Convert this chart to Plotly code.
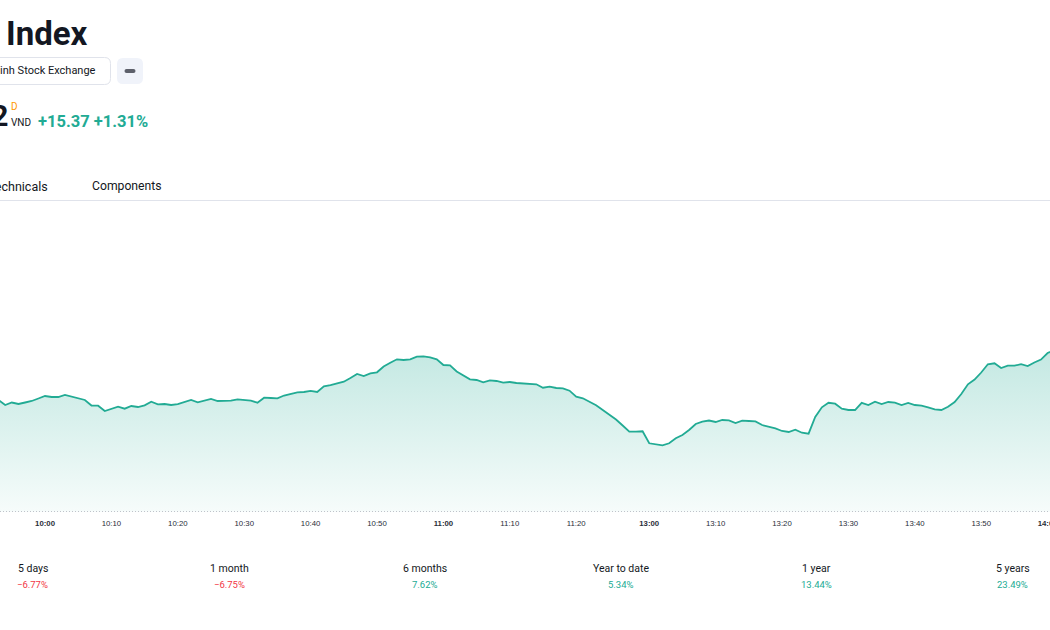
import plotly.graph_objects as go

# ---------------- data ----------------
prev_close = 1173.33

# trading minutes shown: 09:53 .. 11:30 (morning), 13:00 .. 14:01 (afternoon)
morning = [f"{h:02d}:{m:02d}" for h in (9, 10, 11) for m in range(60)
           if (h, m) >= (9, 53) and (h, m) <= (11, 30)]
afternoon = [f"{h:02d}:{m:02d}" for h in (13, 14) for m in range(60)
             if (h, m) <= (14, 1)]
times = morning + afternoon

prices = [
    1184.50, 1184.00, 1184.25, 1184.10, 1184.25, 1184.40, 1184.65,   # 09:53-09:59
    1184.90, 1184.80, 1184.80, 1185.00, 1184.85, 1184.65, 1184.50, 1183.95, 1183.93, 1183.40,  # 10:00-10:09
    1183.60, 1183.83, 1183.63, 1183.90, 1183.80, 1183.97, 1184.33, 1184.07, 1184.10, 1184.00,  # 10:10-10:19
    1184.08, 1184.32, 1184.50, 1184.27, 1184.43, 1184.60, 1184.40, 1184.43, 1184.43, 1184.57,  # 10:20-10:29
    1184.47, 1184.43, 1184.23, 1184.73, 1184.70, 1184.67, 1184.95, 1185.08, 1185.26, 1185.30,  # 10:30-10:39
    1185.42, 1185.30, 1185.87, 1185.98, 1186.15, 1186.33, 1186.70, 1187.10, 1186.90, 1187.17,  # 10:40-10:49
    1187.27, 1187.85, 1188.23, 1188.57, 1188.50, 1188.57, 1188.83, 1188.87, 1188.77, 1188.57,  # 10:50-10:59
    1188.00, 1187.97, 1187.35, 1186.92, 1186.57, 1186.50, 1186.27, 1186.47, 1186.40, 1186.23,  # 11:00-11:09
    1186.30, 1186.20, 1186.17, 1186.07, 1186.07, 1185.73, 1185.83, 1185.70, 1185.67, 1185.43,  # 11:10-11:19
    1184.83, 1184.67, 1184.33, 1183.97, 1183.50, 1183.02, 1182.55, 1181.95, 1181.33, 1181.33,  # 11:20-11:29
    1181.37,                                                                                    # 11:30
    1180.17, 1180.07, 1179.97, 1180.17, 1180.67, 1181.00, 1181.50, 1182.10, 1182.33, 1182.45,  # 13:00-13:09
    1182.30, 1182.50, 1182.46, 1182.20, 1182.43, 1182.40, 1182.36, 1182.00, 1181.82, 1181.66,  # 13:10-13:19
    1181.40, 1181.30, 1181.53, 1181.23, 1181.13, 1182.80, 1183.77, 1184.22, 1184.13, 1183.64,  # 13:20-13:29
    1183.50, 1183.50, 1184.22, 1184.00, 1184.33, 1184.10, 1184.30, 1184.23, 1184.00, 1184.20,  # 13:30-13:39
    1184.00, 1183.93, 1183.77, 1183.57, 1183.50, 1183.83, 1184.30, 1185.10, 1186.07, 1186.55,  # 13:40-13:49
    1187.25, 1188.07, 1188.17, 1187.70, 1187.93, 1187.93, 1188.08, 1187.90, 1188.25, 1188.54,  # 13:50-13:59
    1189.20, 1189.50,                                                                           # 14:00-14:01
]

tick_times = ["10:00", "10:10", "10:20", "10:30", "10:40", "10:50", "11:00", "11:10",
              "11:20", "13:00", "13:10", "13:20", "13:30", "13:40", "13:50", "14:00"]
tick_bold = ["10:00", "11:00", "13:00", "14:00"]

periods = ["5 days", "1 month", "6 months", "Year to date", "1 year", "5 years"]
period_changes = [-6.77, -6.75, 7.62, 5.34, 13.44, 23.49]

title_text = "VN Index"
exchange_text = "Ho Chi Minh Stock Exchange"
last_price_text = "1,188.72"
change_text = "+15.37 +1.31%"

# ---------------- styling / layout helpers ----------------
W, H = 1050, 630
PLOT_TOP, PLOT_BOTTOM = 210, 512
GREEN = "#22ab94"
RED = "#f23645"
DARK = "#131722"
FONT = "Roboto, 'Open Sans', sans-serif"


def px(x):
    return x / W


def py(y):
    return (PLOT_BOTTOM - y) / (PLOT_BOTTOM - PLOT_TOP)


def rounded_rect(x0, y0, x1, y1, r):
    return (f"M {px(x0 + r)},{py(y0)} L {px(x1 - r)},{py(y0)} "
            f"Q {px(x1)},{py(y0)} {px(x1)},{py(y0 + r)} "
            f"L {px(x1)},{py(y1 - r)} Q {px(x1)},{py(y1)} {px(x1 - r)},{py(y1)} "
            f"L {px(x0 + r)},{py(y1)} Q {px(x0)},{py(y1)} {px(x0)},{py(y1 - r)} "
            f"L {px(x0)},{py(y0 + r)} Q {px(x0)},{py(y0)} {px(x0 + r)},{py(y0)} Z")


fig = go.Figure()

# baseline at previous close (fill target)
fig.add_trace(go.Scatter(
    x=times, y=[prev_close] * len(times), mode="lines",
    line=dict(width=0, color="rgba(0,0,0,0)"), hoverinfo="skip", showlegend=False,
))
fig.add_trace(go.Scatter(
    x=times, y=prices, mode="lines",
    line=dict(color=GREEN, width=1.8),
    fill="tonexty",
    fillgradient=dict(
        type="vertical",
        colorscale=[[0, "rgba(34,171,148,0.04)"], [1, "rgba(34,171,148,0.27)"]],
        start=prev_close, stop=max(prices),
    ),
    showlegend=False,
))

ticktext = [f"<b>{t}</b>" if t in tick_bold else t for t in tick_times]

fig.update_layout(
    width=W, height=H,
    margin=dict(l=0, r=0, t=PLOT_TOP, b=H - PLOT_BOTTOM, pad=0, autoexpand=False),
    paper_bgcolor="white", plot_bgcolor="white",
    font=dict(family=FONT, color=DARK),
    showlegend=False,
    xaxis=dict(
        type="category", categoryorder="array", categoryarray=times,
        range=[0.22, 158.36],
        tickmode="array", tickvals=tick_times, ticktext=ticktext,
        tickfont=dict(size=7.8, color="#2a2e39", family="'Liberation Sans', Arial, sans-serif"),
        showgrid=False, zeroline=False, showline=False, ticks="",
        ticklabelstandoff=5, fixedrange=True, automargin=False,
    ),
    yaxis=dict(visible=False, range=[1173.3, 1203.5], fixedrange=True, automargin=False),
)

shapes = []
# previous close dotted line
shapes.append(dict(type="line", xref="paper", yref="y", x0=0, x1=1,
                   y0=prev_close, y1=prev_close,
                   line=dict(color="#b2b5be", width=1, dash="1px,2px")))
# header separator
shapes.append(dict(type="line", xref="paper", yref="paper", x0=0, x1=1,
                   y0=py(200.5), y1=py(200.5), line=dict(color="#e0e3eb", width=1)))
# exchange pill
shapes.append(dict(type="path", xref="paper", yref="paper",
                   path=rounded_rect(-200, 57.5, 110.5, 84.5, 6),
                   line=dict(color="#e0e3eb", width=1), fillcolor="white"))
# minus button
shapes.append(dict(type="path", xref="paper", yref="paper",
                   path=rounded_rect(117, 58, 143, 84, 6),
                   line=dict(width=0), fillcolor="#f0f3fa"))
shapes.append(dict(type="path", xref="paper", yref="paper",
                   path=rounded_rect(124.5, 69, 135.5, 73, 2),
                   line=dict(width=0), fillcolor="#5d606b"))
fig.update_layout(shapes=shapes)

ann = []


def add_text(text, x, y, size, color=DARK, anchor="left", bold=False, family=FONT):
    ann.append(dict(
        text=f"<b>{text}</b>" if bold else text,
        x=px(x), y=py(y), xref="paper", yref="paper",
        xanchor=anchor, yanchor="middle", showarrow=False,
        font=dict(size=size, color=color, family=family),
    ))


add_text(title_text, 90, 34, 33, anchor="right", bold=True)
add_text(exchange_text, 98, 70, 11, anchor="right")
add_text(last_price_text, 10, 116, 30, anchor="right", bold=True)
add_text("D", 9, 106, 10, color="#ff9800")
add_text("VND", 8.5, 123, 10)
add_text(change_text, 36, 121.5, 16.5, color=GREEN, bold=True)
add_text("Technicals", 50, 186, 12.5, anchor="right")
add_text("Components", 90, 186, 12.2)

centers = [32.5, 229, 425, 621, 816, 1012.5]
for cx, label, chg in zip(centers, periods, period_changes):
    add_text(label, cx, 568, 10.5, anchor="center")
    txt = (f"\u2212{abs(chg):.2f}%" if chg < 0 else f"{chg:.2f}%")
    add_text(txt, cx, 584, 9.5, color=RED if chg < 0 else GREEN, anchor="center")

fig.update_layout(annotations=ann)

fig.write_html("out.html")
